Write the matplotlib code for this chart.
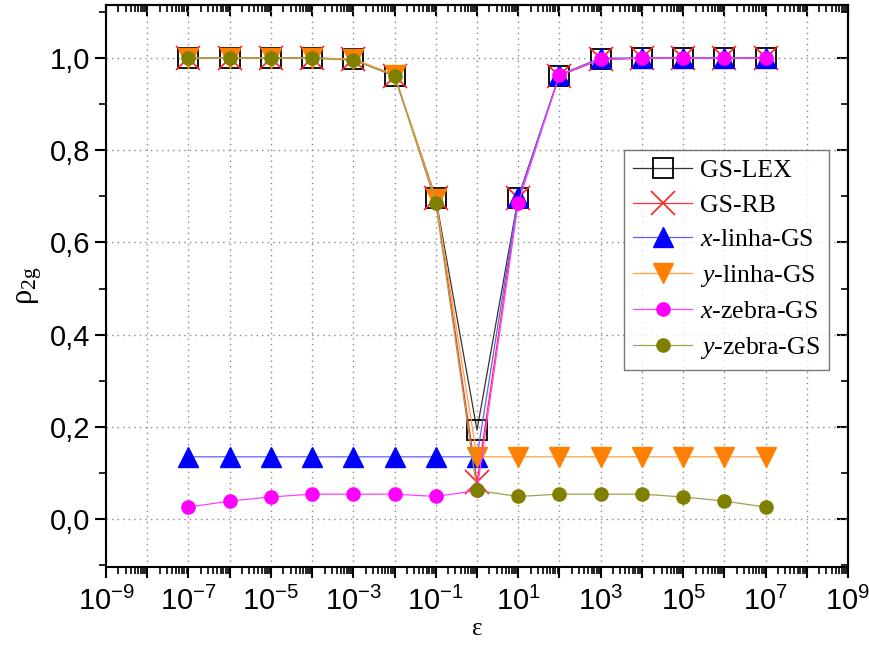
import matplotlib
matplotlib.use("Agg")
import matplotlib.pyplot as plt
import matplotlib.ticker as mticker
import numpy as np

eps = [1e-7, 1e-6, 1e-5, 1e-4, 1e-3, 1e-2, 1e-1, 1e0, 1e1, 1e2, 1e3, 1e4, 1e5, 1e6, 1e7]

gs_lex   = [1.0, 1.0, 1.0, 1.0, 0.997, 0.961, 0.696, 0.193, 0.697, 0.962, 0.997, 1.0, 1.0, 1.0, 1.0]
gs_rb    = [1.0, 1.0, 1.0, 1.0, 0.997, 0.961, 0.696, 0.080, 0.697, 0.962, 0.997, 1.0, 1.0, 1.0, 1.0]
x_linha  = [0.135, 0.135, 0.135, 0.135, 0.135, 0.135, 0.135, 0.135, 0.698, 0.964, 1.0, 1.0, 1.0, 1.0, 1.0]
y_linha  = [1.0, 1.0, 1.0, 1.0, 0.998, 0.964, 0.694, 0.135, 0.135, 0.135, 0.135, 0.135, 0.135, 0.135, 0.135]
x_zebra  = [0.026, 0.039, 0.048, 0.054, 0.054, 0.054, 0.049, 0.062, 0.685, 0.963, 0.997, 1.0, 1.0, 1.0, 1.0]
y_zebra  = [1.0, 1.0, 1.0, 1.0, 0.995, 0.962, 0.685, 0.062, 0.049, 0.054, 0.054, 0.054, 0.048, 0.039, 0.026]

labels = ["GS-LEX", "GS-RB", "$x$-linha-GS", "$y$-linha-GS", "$x$-zebra-GS", "$y$-zebra-GS"]

plt.rcParams['mathtext.fontset'] = 'custom'
plt.rcParams['mathtext.it'] = 'Liberation Serif:italic'
plt.rcParams['mathtext.rm'] = 'Liberation Serif'

fig = plt.figure(figsize=(8.69, 6.60), dpi=100)
ax = fig.add_axes([0.122, 0.1409, 0.8538, 0.8515])

ax.plot(eps, gs_lex, color='#333333', lw=0.9, marker='s', ms=14, mfc='none', mec='black', mew=1.3, label=labels[0], zorder=3)
ax.plot(eps, gs_rb, color='#ff3030', lw=0.9, marker='x', ms=17, mec='#ff2020', mew=1.2, label=labels[1], zorder=4)
ax.plot(eps, x_linha, color='#6060ff', lw=0.9, marker='^', ms=14, mfc='#0000ff', mec='#0000ff', label=labels[2], zorder=5)
ax.plot(eps, y_linha, color='#ffa040', lw=0.9, marker='v', ms=14, mfc='#ff8000', mec='#ff8000', label=labels[3], zorder=6)
ax.plot(eps, x_zebra, color='#ff40ff', lw=0.9, marker='o', ms=9.5, mfc='#ff00ff', mec='#ff00ff', label=labels[4], zorder=7)
ax.plot(eps, y_zebra, color='#a0a050', lw=0.9, marker='o', ms=9.5, mfc='#808000', mec='#808000', label=labels[5], zorder=8)

ax.set_xscale('log')
ax.set_xlim(1e-9, 1e9)
ax.set_ylim(-0.104, 1.115)

ax.xaxis.set_major_locator(mticker.LogLocator(base=10, numticks=30))
ax.xaxis.set_minor_locator(mticker.LogLocator(base=10, subs=np.arange(2, 10), numticks=100))
def xfmt(v, pos):
    e = int(round(np.log10(v)))
    if e % 2 == 0:
        return ''
    return r'$\mathregular{10^{%d}}$' % e
ax.xaxis.set_major_formatter(mticker.FuncFormatter(xfmt))
ax.xaxis.set_minor_formatter(mticker.NullFormatter())

ax.yaxis.set_major_locator(mticker.FixedLocator([0.0, 0.2, 0.4, 0.6, 0.8, 1.0]))
ax.yaxis.set_minor_locator(mticker.FixedLocator([-0.1, 0.1, 0.3, 0.5, 0.7, 0.9, 1.1]))
ax.yaxis.set_major_formatter(mticker.FuncFormatter(lambda v, p: ('%.1f' % v).replace('.', ',')))

for lab in ax.get_xticklabels() + ax.get_yticklabels():
    lab.set_fontfamily('Liberation Sans')
ax.tick_params(axis='both', which='major', labelsize=21, width=1.5, length=8)
ax.tick_params(axis='x', which='major', pad=6)
ax.tick_params(axis='both', which='minor', width=1.2, length=5)
ax.tick_params(axis='x', which='both', direction='out', top=False)
ax.tick_params(axis='y', which='both', direction='out', right=False)

ax2 = ax.secondary_xaxis('top')
ax2.xaxis.set_major_locator(mticker.LogLocator(base=10, numticks=30))
ax2.xaxis.set_minor_locator(mticker.LogLocator(base=10, subs=np.arange(2, 10), numticks=100))
ax2.tick_params(axis='x', which='major', direction='in', length=8, width=1.5, labeltop=False)
ax2.tick_params(axis='x', which='minor', direction='in', length=5, width=1.2)
ax2.xaxis.set_major_formatter(mticker.NullFormatter())
ax2.xaxis.set_minor_formatter(mticker.NullFormatter())
ax3 = ax.secondary_yaxis('right')
ax3.yaxis.set_major_locator(mticker.FixedLocator([0.0, 0.2, 0.4, 0.6, 0.8, 1.0]))
ax3.yaxis.set_minor_locator(mticker.FixedLocator([-0.1, 0.1, 0.3, 0.5, 0.7, 0.9, 1.1]))
ax3.tick_params(axis='y', which='major', direction='in', length=8, width=1.5, labelright=False)
ax3.tick_params(axis='y', which='minor', direction='in', length=5, width=1.2)
ax3.yaxis.set_major_formatter(mticker.NullFormatter())
for a in (ax2, ax3):
    for s in a.spines.values():
        s.set_linewidth(1.5)

for s in ax.spines.values():
    s.set_linewidth(1.5)

ax.grid(True, which='major', axis='both', color='#888888', linestyle=(0, (1, 3)), linewidth=1.0)

ax.set_xlabel('ε', fontfamily='Liberation Serif', fontsize=18, labelpad=2)
ax.set_ylabel(r'$\mathrm{\rho_{2g}}$', fontsize=22, labelpad=4)

leg = ax.legend(loc='upper right', bbox_to_anchor=(0.974, 0.742), prop={'family': 'Liberation Serif', 'size': 18.5},
                frameon=True, fancybox=False, edgecolor='#555555', borderpad=0.35, labelspacing=0.45,
                handlelength=2.3, handletextpad=0.3, borderaxespad=0.0)
leg.get_frame().set_linewidth(1.0)

fig.savefig('out.png', dpi=100)
